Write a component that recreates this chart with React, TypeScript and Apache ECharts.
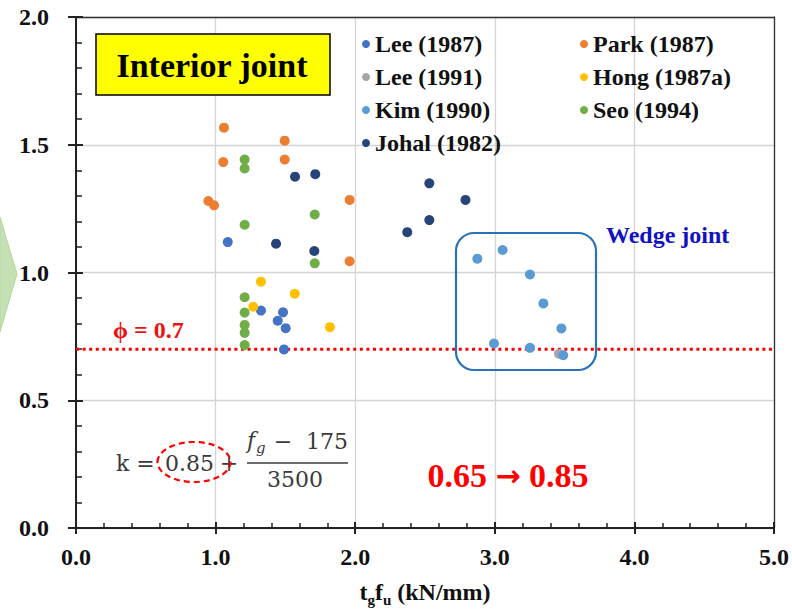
import React, { useEffect, useRef } from "react";
import * as echarts from "echarts";

// ---- data ----
const xTicks = [0, 1, 2, 3, 4, 5];
const yTicks = [0, 0.5, 1.0, 1.5, 2.0];

const seriesNames = [
  "Lee (1987)",
  "Lee (1991)",
  "Kim (1990)",
  "Johal (1982)",
  "Park (1987)",
  "Hong (1987a)",
  "Seo (1994)",
];
const seriesColors = ["#4472C4", "#A5A5A5", "#5B9BD5", "#264478", "#ED7D31", "#FFC000", "#70AD47"];

const lee1987 = [[1.087, 1.119], [1.325, 0.851], [1.483, 0.844], [1.445, 0.811], [1.502, 0.782], [1.49, 0.699]];
const lee1991 = [[3.46, 0.682]];
const kim1990 = [[2.875, 1.054], [3.056, 1.088], [3.252, 0.992], [3.348, 0.879], [3.477, 0.781], [2.994, 0.722], [3.252, 0.705], [3.49, 0.676]];
const johal1982 = [[1.569, 1.375], [1.714, 1.385], [1.433, 1.113], [1.707, 1.084], [2.531, 1.349], [2.79, 1.284], [2.531, 1.205], [2.373, 1.158]];
const park1987 = [[1.06, 1.567], [1.055, 1.432], [0.948, 1.28], [0.989, 1.263], [1.495, 1.516], [1.495, 1.442], [1.96, 1.284], [1.96, 1.044]];
const hong1987a = [[1.325, 0.964], [1.27, 0.866], [1.567, 0.917], [1.819, 0.786]];
const seo1994 = [[1.208, 1.442], [1.208, 1.407], [1.208, 1.187], [1.71, 1.227], [1.71, 1.036], [1.208, 0.903], [1.208, 0.843], [1.208, 0.795], [1.208, 0.764], [1.208, 0.716]];

const phiValue = 0.7;

const SERIF = "'Liberation Serif', 'Times New Roman', serif";
const MATH = "'DejaVu Serif', serif";

export default function App() {
  const ref = useRef<HTMLDivElement>(null);

  useEffect(() => {
    if (!ref.current) return;
    const chart = echarts.init(ref.current, null, { renderer: "svg" });

    const allData = [lee1987, lee1991, kim1990, johal1982, park1987, hong1987a, seo1994];

    const labelStyle = {
      fontFamily: SERIF,
      fontWeight: "bold" as const,
      fontSize: 24,
      color: "#111",
    };

    const scatterSeries = allData.map((d, i) => ({
      name: seriesNames[i],
      type: "scatter",
      xAxisIndex: 0,
      yAxisIndex: 0,
      data: d,
      symbol: "circle",
      symbolSize: 10,
      itemStyle: { color: seriesColors[i], opacity: 1 },
      z: 4,
    }));

    const txt = (x: number, y: number, text: string, extra: any, align = "left", z = 11) => ({
      type: "text",
      x,
      y,
      z,
      style: {
        text,
        align,
        verticalAlign: "middle",
        textAlign: align,
        textVerticalAlign: "middle",
        ...extra,
      },
    });

    const mathStyle = { fontFamily: MATH, fontSize: 22, fill: "#3a3a3a" };

    const option: any = {
      animation: false,
      backgroundColor: "#ffffff",
      grid: { left: 76, right: 18, top: 17, bottom: 81, containLabel: false },
      legend: [
        {
          data: seriesNames.slice(0, 4),
          orient: "vertical",
          left: 362,
          top: 32,
          padding: 0,
          icon: "circle",
          itemWidth: 8,
          itemHeight: 8,
          itemGap: 9,
          selectedMode: false,
          textStyle: { ...labelStyle, lineHeight: 24 },
        },
        {
          data: seriesNames.slice(4),
          orient: "vertical",
          left: 580,
          top: 32,
          padding: 0,
          icon: "circle",
          itemWidth: 8,
          itemHeight: 8,
          itemGap: 9,
          selectedMode: false,
          textStyle: { ...labelStyle, lineHeight: 24 },
        },
      ],
      xAxis: [
        {
          type: "value",
          position: "bottom",
          min: xTicks[0],
          max: xTicks[xTicks.length - 1],
          interval: 1,
          z: 3,
          axisLine: { show: true, onZero: false, lineStyle: { color: "#222", width: 2 } },
          axisTick: { show: true, inside: true, length: 6, lineStyle: { color: "#222", width: 2 } },
          minorTick: { show: true, splitNumber: 5, length: 5, lineStyle: { color: "#222", width: 1.5 } },
          axisLabel: { ...labelStyle, margin: 17, formatter: (v: number) => v.toFixed(1) },
          splitLine: { show: false },
          name: "{m|t}{s|g}{m|f}{s|u}{m| (kN/mm)}",
          nameLocation: "middle",
          nameGap: 49,
          nameTextStyle: {
            rich: {
              m: { ...labelStyle, lineHeight: 30, verticalAlign: "middle" },
              s: { fontFamily: SERIF, fontWeight: "bold", fontSize: 15, color: "#111", lineHeight: 16, verticalAlign: "bottom" },
            },
          },
        },
        {
          type: "value",
          position: "bottom",
          min: xTicks[0],
          max: xTicks[xTicks.length - 1],
          interval: 1,
          z: 1,
          axisLine: { show: false, onZero: false },
          axisTick: { show: true, inside: false, length: 6, lineStyle: { color: "#222", width: 2 } },
          axisLabel: { show: false },
          splitLine: { show: true, lineStyle: { color: "#d4d4d4", width: 1.3 } },
        },
        {
          type: "value",
          position: "top",
          min: xTicks[0],
          max: xTicks[xTicks.length - 1],
          interval: 1,
          z: 3,
          axisLine: { show: true, onZero: false, lineStyle: { color: "#333", width: 1.3 } },
          axisTick: { show: false },
          axisLabel: { show: false },
          splitLine: { show: false },
        },
      ],
      yAxis: [
        {
          type: "value",
          position: "left",
          min: yTicks[0],
          max: yTicks[yTicks.length - 1],
          interval: 0.5,
          z: 3,
          axisLine: { show: true, onZero: false, lineStyle: { color: "#222", width: 2 } },
          axisTick: { show: true, inside: true, length: 7, lineStyle: { color: "#222", width: 2 } },
          minorTick: { show: true, splitNumber: 5, length: 6, lineStyle: { color: "#222", width: 1.5 } },
          axisLabel: { ...labelStyle, margin: 27, formatter: (v: number) => v.toFixed(1) },
          splitLine: { show: false },
        },
        {
          type: "value",
          position: "left",
          min: yTicks[0],
          max: yTicks[yTicks.length - 1],
          interval: 0.5,
          z: 1,
          axisLine: { show: false, onZero: false },
          axisTick: { show: true, inside: false, length: 8, lineStyle: { color: "#222", width: 2 } },
          axisLabel: { show: false },
          splitLine: { show: true, lineStyle: { color: "#d4d4d4", width: 1.3 } },
        },
        {
          type: "value",
          position: "right",
          min: yTicks[0],
          max: yTicks[yTicks.length - 1],
          interval: 0.5,
          z: 3,
          axisLine: { show: true, onZero: false, lineStyle: { color: "#333", width: 1.3 } },
          axisTick: { show: false },
          axisLabel: { show: false },
          splitLine: { show: false },
        },
      ],
      series: [
        {
          name: "phi",
          type: "line",
          xAxisIndex: 0,
          yAxisIndex: 0,
          data: [[xTicks[0], phiValue], [xTicks[xTicks.length - 1], phiValue]],
          symbol: "none",
          silent: true,
          lineStyle: { color: "#ff0000", width: 3, type: [3, 3.6] },
          z: 3,
        },
        ...scatterSeries,
      ],
      graphic: [
        // green chevron at the left edge
        {
          type: "polygon",
          shape: { points: [[0, 217], [17, 274], [0, 332]] },
          style: { fill: "#c5e0b4", stroke: "#b4d79c", lineWidth: 1 },
          z: 10,
        },
        // Interior joint box
        {
          type: "rect",
          shape: { x: 96, y: 34, width: 234, height: 61 },
          style: { fill: "#ffff00", stroke: "#000", lineWidth: 1.5 },
          z: 10,
        },
        txt(212, 65, "Interior joint", { fontFamily: SERIF, fontWeight: "bold", fontSize: 34, fill: "#000" }, "center"),
        // Wedge joint box
        {
          type: "rect",
          shape: { x: 456, y: 233, width: 140, height: 137, r: 18 },
          style: { fill: "none", stroke: "#2872b8", lineWidth: 2.2 },
          z: 10,
        },
        txt(606, 235, "Wedge joint", { fontFamily: SERIF, fontWeight: "bold", fontSize: 24, fill: "#1212c0" }),
        // phi label
        txt(113, 330, "ϕ = 0.7", { fontFamily: SERIF, fontWeight: "bold", fontSize: 24, fill: "#ee1111" }),
        // 0.65 -> 0.85
        {
          type: "text",
          x: 508,
          y: 475,
          z: 11,
          style: {
            text: "{a|0.65 }{b|→}{a| 0.85}",
            align: "center",
            verticalAlign: "middle",
            textAlign: "center",
            textVerticalAlign: "middle",
            rich: {
              a: { fontFamily: SERIF, fontWeight: "bold", fontSize: 34, fill: "#ff0000", lineHeight: 40, verticalAlign: "middle" },
              b: { fontFamily: "'DejaVu Sans', sans-serif", fontWeight: "bold", fontSize: 30, fill: "#ff0000", lineHeight: 40, verticalAlign: "middle" },
            },
          },
        },
        // formula
        txt(116, 463, "k =", mathStyle),
        txt(165, 463, "0.85", mathStyle),
        txt(229, 463, "+", mathStyle, "center"),
        txt(247, 440, "f", { ...mathStyle, fontStyle: "italic" }),
        txt(256, 448, "g", { ...mathStyle, fontSize: 15, fontStyle: "italic" }),
        txt(283, 441, "−", mathStyle, "center"),
        txt(348, 441, "175", mathStyle, "right"),
        {
          type: "line",
          shape: { x1: 247, y1: 463, x2: 348, y2: 463 },
          style: { stroke: "#3a3a3a", lineWidth: 1.5 },
          z: 11,
        },
        txt(295, 479, "3500", mathStyle, "center"),
        {
          type: "ellipse",
          shape: { cx: 194, cy: 462, rx: 36.5, ry: 20 },
          style: { fill: "none", stroke: "#ff0000", lineWidth: 2.2, lineDash: [6, 4] },
          z: 12,
        },
      ],
    };

    chart.setOption(option);
    return () => chart.dispose();
  }, []);

  return (
    <div
      ref={ref}
      style={{ position: "absolute", left: 0, top: 0, width: 792, height: 612, background: "#fff" }}
    />
  );
}
